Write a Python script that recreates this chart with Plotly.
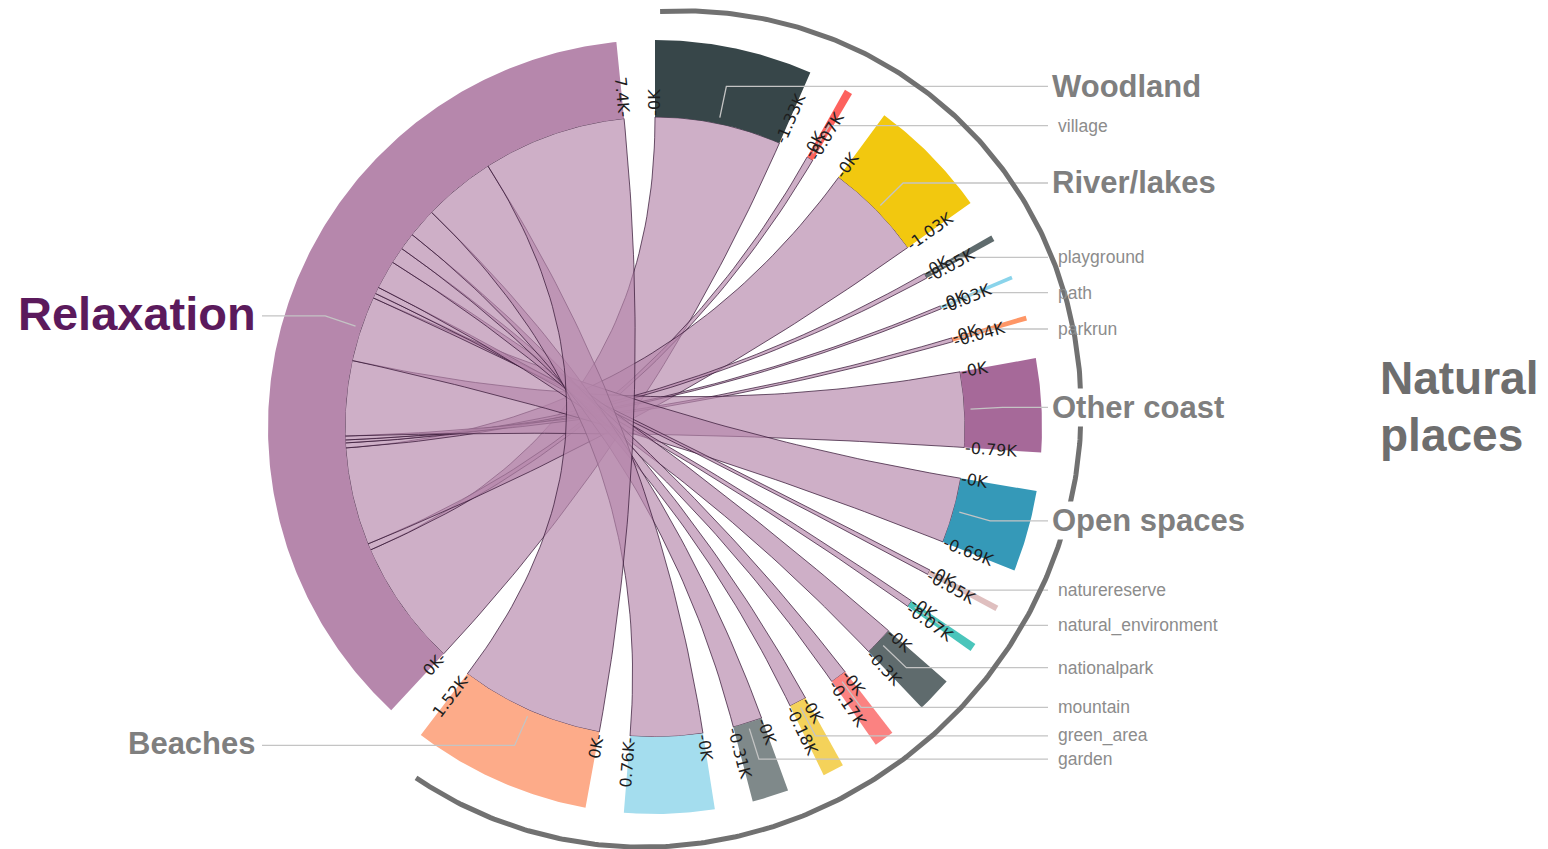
import numpy as np
import plotly.graph_objects as go

# ---------------- data ----------------
source_name = "Relaxation"
source_color = "#B687AC"
places = ["Woodland", "village", "River/lakes", "playground", "path", "parkrun",
          "Other coast", "Open spaces", "naturereserve", "natural_environment",
          "nationalpark", "mountain", "green_area", "garden", "", "Beaches"]
relaxation_counts = [1334, 68, 1031, 52, 31, 41, 792, 690, 51, 70,
                     301, 172, 181, 309, 762, 1516]
place_colors = ["#374649", "#FD625E", "#F2C80F", "#5F6B6D", "#8AD4EB", "#FE9666",
                "#A66999", "#3599B8", "#DFBFBF", "#4AC5BB", "#5F6B6D", "#FB8281",
                "#F4D25A", "#7F898A", "#A4DDEE", "#FDAB89"]
major_places = ["Woodland", "River/lakes", "Other coast", "Open spaces", "Beaches"]
group_title = ["Natural", "places"]

# ---------------- geometry ----------------
CX, CY = 655.0, 427.0
R_IN, R_OUT = 310.0, 387.0
PAD = 0.1
W, H = 1548, 849


def pt(theta, r, cx=CX, cy=CY):
    return cx + r * np.sin(theta), cy - r * np.cos(theta)


def fmt_k(v):
    if v == 0:
        return "0K"
    s = f"{v / 1000:.2f}".rstrip("0").rstrip(".")
    return s + "K"


names = places + [source_name]
values = relaxation_counts + [sum(relaxation_counts)]
colors = place_colors + [source_color]
n = len(names)
k = (2 * np.pi - PAD * n) / (2 * sum(relaxation_counts))

groups = []
a = 0.0
for v in values:
    groups.append((a, a + v * k))
    a += v * k + PAD

# Relaxation subgroups in place order
rel0 = groups[-1][0]
subs = []
a = rel0
for v in relaxation_counts:
    subs.append((a, a + v * k))
    a += v * k

fig = go.Figure()


def arc_pts(a0, a1, r, m=60):
    t = np.linspace(a0, a1, max(3, int(m * abs(a1 - a0) / 0.5) + 3))
    return pt(t, r)


def quad(p0, p2, m=60):
    t = np.linspace(0, 1, m)[:, None]
    P0 = np.array(p0)
    P2 = np.array(p2)
    C = np.array([CX, CY])
    B = (1 - t) ** 2 * P0 + 2 * t * (1 - t) * C + t ** 2 * P2
    return B[:, 0], B[:, 1]


# ribbons
for i, v in enumerate(relaxation_counts):
    ta0, ta1 = groups[i]
    sa0, sa1 = subs[i]
    xs, ys = [], []
    x, y = arc_pts(ta0, ta1, R_IN); xs += list(x); ys += list(y)
    x, y = quad(pt(ta1, R_IN), pt(sa0, R_IN)); xs += list(x); ys += list(y)
    x, y = arc_pts(sa0, sa1, R_IN); xs += list(x); ys += list(y)
    x, y = quad(pt(sa1, R_IN), pt(ta0, R_IN)); xs += list(x); ys += list(y)
    fig.add_trace(go.Scatter(x=xs, y=ys, mode="lines", fill="toself",
                             fillcolor="rgba(182,135,172,0.67)",
                             line=dict(color="rgba(50,20,50,0.9)", width=0.8),
                             hoverinfo="skip", showlegend=False))

# group arcs
for (a0, a1), c in zip(groups, colors):
    xo, yo = arc_pts(a0, a1, R_OUT)
    xi, yi = arc_pts(a1, a0, R_IN)
    fig.add_trace(go.Scatter(x=list(xo) + list(xi), y=list(yo) + list(yi),
                             mode="lines", fill="toself", fillcolor=c,
                             line=dict(width=0, color=c),
                             hoverinfo="skip", showlegend=False))

annotations = []

# tick labels (0K at start, value at end)
FS = 16
cw = {".": 0.318, "K": 0.656, "-": 0.361}
for (a0, a1), v in zip(groups, values):
    for ang, lab in ((a0, "0K"), (a1, fmt_k(v))):
        deg = np.degrees(ang) % 360
        right = deg < 180
        txt = ("-" + lab) if right else (lab + "-")
        L = sum(cw.get(ch, 0.636) for ch in txt) * FS
        x, y = pt(ang, R_IN + 1 + L / 2)
        annotations.append(dict(x=x, y=y, xref="x", yref="y", text=txt,
                                showarrow=False, textangle=(deg - 90) if right else (deg - 270),
                                xanchor="center", yanchor="middle",
                                font=dict(family="DejaVu Sans", size=FS, color="#1e1e1e")))

# leader lines + labels
lx, ly = [], []
for (a0, a1), nm in zip(groups, names):
    if not nm:
        continue
    m = (a0 + a1) / 2
    right = (np.degrees(m) % 360) < 180
    x1, y1 = pt(m, 316)
    x2, y2 = pt(m, 348)
    x3 = 1048 if right else 262
    lx += [x1, x2, x3, None]
    ly += [y1, y2, y2, None]
    if nm == source_name:
        font = dict(family="Arial, Liberation Sans", size=47, color="#5B1A5C")
        txt = "<b>" + nm + "</b>"
    elif nm in major_places:
        font = dict(family="Arial, Liberation Sans", size=31, color="#7F7F7F")
        txt = "<b>" + nm + "</b>"
    else:
        font = dict(family="Arial, Liberation Sans", size=17.5, color="#8C8C8C")
        txt = nm
    if right:
        xt = 1050 if nm in major_places else 1056
        ann = dict(x=xt, y=y2, xref="x", yref="y", text=txt, showarrow=False,
                   xanchor="left", yanchor="middle", font=font)
        if nm in major_places:
            ann["bgcolor"] = "white"
        annotations.append(ann)
    else:
        annotations.append(dict(x=258, y=y2 - 2, xref="x", yref="y", text=txt, showarrow=False,
                                xanchor="right", yanchor="middle", font=font))

fig.add_trace(go.Scatter(x=lx, y=ly, mode="lines", line=dict(color="#C4C4C4", width=1.3),
                         hoverinfo="skip", showlegend=False))

# bracket arc around the natural places (slightly elliptical, tilted)
BA, BB, BCX, BCY = 428.0, 408.0, 663.0, 429.0
phi = np.radians(np.linspace(90.4, -125.3, 400))
rr = BA * BB / np.sqrt((BB * np.cos(phi - np.pi / 4)) ** 2 + (BA * np.sin(phi - np.pi / 4)) ** 2)
bx = BCX + rr * np.cos(phi)
by = BCY - rr * np.sin(phi)
fig.add_trace(go.Scatter(x=bx, y=by, mode="lines", line=dict(color="#717171", width=5),
                         hoverinfo="skip", showlegend=False))

annotations.append(dict(x=1378, y=378, xref="x", yref="y", text="<b>" + group_title[0] + "</b>",
                        showarrow=False, xanchor="left", yanchor="middle",
                        font=dict(family="Arial, Liberation Sans", size=46, color="#6E6E6E")))
annotations.append(dict(x=1378, y=435, xref="x", yref="y", text="<b>" + group_title[1] + "</b>",
                        showarrow=False, xanchor="left", yanchor="middle",
                        font=dict(family="Arial, Liberation Sans", size=46, color="#6E6E6E")))

fig.update_layout(width=W, height=H, margin=dict(l=0, r=0, t=0, b=0),
                  paper_bgcolor="white", plot_bgcolor="white",
                  xaxis=dict(range=[0, W], visible=False, fixedrange=True),
                  yaxis=dict(range=[H, 0], visible=False, fixedrange=True),
                  annotations=annotations, showlegend=False)

fig.write_html("out.html", config={"displayModeBar": False},
               post_script="document.body.style.margin='0';document.body.style.overflow='hidden';")
